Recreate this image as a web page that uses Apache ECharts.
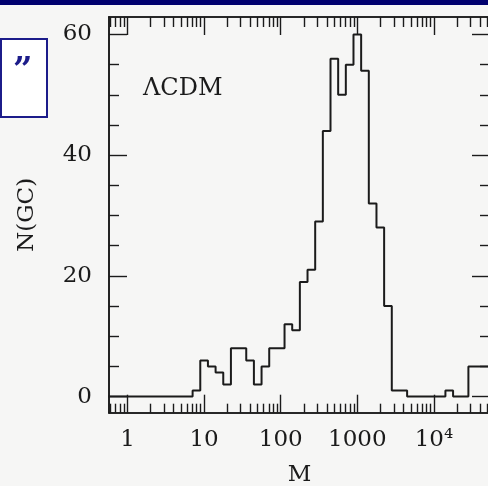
<!DOCTYPE html>
<html>
<head>
<meta charset="utf-8">
<script src="https://cdn.jsdelivr.net/npm/echarts@6/dist/echarts.min.js"></script>
<style>
  html, body { margin: 0; padding: 0; background: #f6f6f5; }
  #chart { width: 488px; height: 486px; }
</style>
</head>
<body>
<div id="chart"></div>
<script>
// ---- data ----
// histogram bin centres in log10(M), bin width 0.1 dex
const logMCenters = [-0.2,-0.1,0.0,0.1,0.2,0.3,0.4,0.5,0.6,0.7,0.8,0.9,
  1.0,1.1,1.2,1.3,1.4,1.5,1.6,1.7,1.8,1.9,
  2.0,2.1,2.2,2.3,2.4,2.5,2.6,2.7,2.8,2.9,
  3.0,3.1,3.2,3.3,3.4,3.5,3.6,3.7,3.8,3.9,
  4.0,4.1,4.2,4.3,4.4,4.5,4.6,4.7];
const counts = [0,0,0,0,0,0,0,0,0,0,0,1,
  6,5,4,2,8,8,6,2,5,8,
  8,12,11,19,21,29,44,56,50,55,
  60,54,32,28,15,1,1,0,0,0,
  0,0,1,0,0,5,5,5];
const binWidth = 0.1;

const xTickDecades = [0, 1, 2, 3, 4];
const xTickLabels = ['1', '10', '100', '1000', '10⁴'];
const yTickValues = [0, 20, 40, 60];
const yTickLabels = ['0', '20', '40', '60'];
const yMinorValues = [5, 10, 15, 25, 30, 35, 45, 50, 55];
const xName = 'M';
const yName = 'N(GC)';
const modelLabel = 'ΛCDM';

// ---- build ----
const xMin = -0.2415, xMax = 4.732;
const yMin = -2.67, yMax = 62.9;

const xMinor = [];
for (let n = -1; n <= 4; n++) {
  for (let k = 2; k <= 9; k++) {
    const v = n + Math.log10(k);
    if (v > xMin && v < xMax) xMinor.push(v);
  }
}

const stepData = [];
logMCenters.forEach((c, i) => {
  stepData.push([c - binWidth / 2, counts[i]]);
  stepData.push([c + binWidth / 2, counts[i]]);
});

const font = 'DejaVu Serif';
const ink = '#1b1b1b';
const lineStyle = { color: ink, width: 2 };

function xAxisDef(pos, ticks, len, withLabels) {
  const a = {
    type: 'value', position: pos, min: xMin, max: xMax,
    axisLine: { show: true, onZero: false, lineStyle: { color: ink, width: 1.6 } },
    axisTick: { show: true, inside: true, length: len, customValues: ticks, lineStyle: { color: ink, width: 1.4 } },
    axisLabel: { show: false },
    splitLine: { show: false }
  };
  if (withLabels) {
    a.axisLabel = {
      show: true, customValues: xTickDecades, margin: 16,
      fontFamily: font, fontSize: 23, color: ink,
      formatter: v => xTickLabels[xTickDecades.indexOf(Math.round(v))]
    };
    a.name = xName;
    a.nameLocation = 'middle';
    a.nameGap = 51;
    a.nameTextStyle = { fontFamily: font, fontSize: 23, color: ink };
  }
  return a;
}
function yAxisDef(pos, ticks, len, withLabels) {
  const a = {
    type: 'value', position: pos, min: yMin, max: yMax,
    axisLine: { show: true, onZero: false, lineStyle: { color: ink, width: 1.6 } },
    axisTick: { show: true, inside: true, length: len, customValues: ticks, lineStyle: { color: ink, width: 1.4 } },
    axisLabel: { show: false },
    splitLine: { show: false }
  };
  if (withLabels) {
    a.axisLabel = {
      show: true, customValues: yTickValues, margin: 17,
      fontFamily: font, fontSize: 23, color: ink,
      formatter: v => yTickLabels[yTickValues.indexOf(Math.round(v))]
    };
    a.name = yName;
    a.nameLocation = 'middle';
    a.nameGap = 70;
    a.nameTextStyle = { fontFamily: font, fontSize: 23, color: ink };
  }
  return a;
}

const chart = echarts.init(document.getElementById('chart'), null, { renderer: 'canvas' });
chart.setOption({
  backgroundColor: '#f6f6f5',
  animation: false,
  grid: { left: 109, right: -2, top: 17, bottom: 73.3, containLabel: false, outerBoundsMode: 'none' },
  xAxis: [
    xAxisDef('bottom', xTickDecades, 18, true),
    xAxisDef('bottom', xMinor, 9, false),
    xAxisDef('top', xTickDecades, 18, false),
    xAxisDef('top', xMinor, 10, false)
  ],
  yAxis: [
    yAxisDef('left', yTickValues, 18, true),
    yAxisDef('left', yMinorValues, 10, false),
    yAxisDef('right', yTickValues, 18, false),
    yAxisDef('right', yMinorValues, 10, false)
  ],
  series: [{
    type: 'line',
    xAxisIndex: 0, yAxisIndex: 0,
    data: stepData,
    showSymbol: false,
    clip: true,
    lineStyle: lineStyle
  }],
  graphic: [
    { type: 'rect', left: 0, top: 0, shape: { width: 488, height: 5 }, style: { fill: '#00006e' }, silent: true },
    { type: 'rect', left: 0, top: 38, shape: { width: 46, height: 78 }, style: { fill: '#ffffff', stroke: '#1c1c8a', lineWidth: 2 }, silent: true },
    { type: 'text', left: 13, top: 55, style: { text: '”', font: 'bold 34px "DejaVu Serif"', fill: '#1c1c8a' }, silent: true },
    { type: 'text', left: 143, top: 77, style: { text: modelLabel, font: '24px "DejaVu Serif"', fill: ink }, silent: true }
  ]
});
</script>
</body>
</html>
